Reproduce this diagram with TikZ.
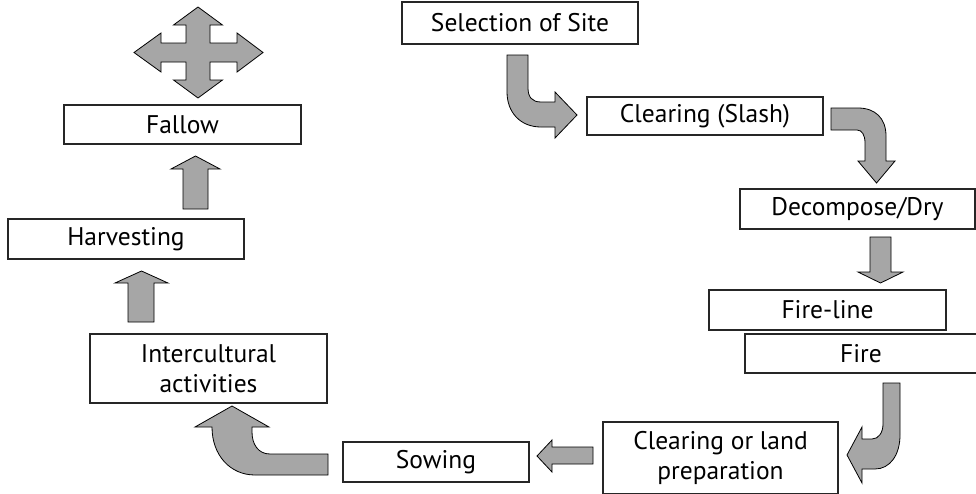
\documentclass[tikz,border=0pt]{standalone}
\usepackage{fontspec}
\setmainfont{PT Sans}
\begin{document}
\begin{tikzpicture}[x=1pt,y=-1pt,
  box/.style={draw=black!85,line width=1.2pt,fill=white,inner sep=0pt,align=center,
    font=\fontsize{25.5}{30}\selectfont},
  blockarrow/.style={draw=black,line width=0.8pt,fill=arrowgray,line join=miter}]
\definecolor{arrowgray}{RGB}{166,166,166}
\clip (0,0) rectangle (976,493);
% boxes
\node[box,minimum width=236pt,minimum height=42pt] (sel) at (520,23) {Selection of Site};
\node[box,minimum width=236pt,minimum height=38pt] (slash) at (705,116) {Clearing (Slash)};
\node[box,minimum width=235pt,minimum height=40pt] (decomp) at (857.5,209) {Decompose/Dry};
\node[box,minimum width=237pt,minimum height=40pt] (fireline) at (827.5,310) {Fire-line};
\node[box,minimum width=232pt,minimum height=39pt] (fire) at (861,353.5) {Fire};
\node[box,minimum width=235pt,minimum height=72pt] (land) at (720.5,458) {Clearing or land\\preparation};
\node[box,minimum width=186pt,minimum height=40pt] (sow) at (436,462) {Sowing};
\node[box,minimum width=237pt,minimum height=69pt] (inter) at (208.5,368.5) {Intercultural\\activities};
\node[box,minimum width=236pt,minimum height=40pt] (harv) at (126,239) {Harvesting};
\node[box,minimum width=237pt,minimum height=39pt] (fallow) at (182.5,124.5) {Fallow};
% four-way arrow
\draw[blockarrow] (198,7) -- (222.5,25) -- (210,25) -- (210,43) -- (237,43) -- (237,33) -- (263,52.5)
  -- (237,72) -- (237,62) -- (210,62) -- (210,80) -- (222.5,80) -- (198,98) -- (173.5,80) -- (186,80)
  -- (186,62) -- (161,62) -- (161,72) -- (134,52.5) -- (161,33) -- (161,43) -- (186,43) -- (186,25)
  -- (173.5,25) -- cycle;
% straight arrows
\draw[blockarrow] (870,237) -- (891,237) -- (891,272) -- (903,272) -- (880.5,283) -- (858,272) -- (870,272) -- cycle;
\draw[blockarrow] (183,209) -- (208,209) -- (208,169) -- (220,169) -- (195.5,156) -- (171,169) -- (183,169) -- cycle;
\draw[blockarrow] (128,322) -- (154,322) -- (154,283) -- (168,283) -- (141.5,271) -- (115,283) -- (128,283) -- cycle;
\draw[blockarrow] (593,447) -- (593,464) -- (552,464) -- (552,472) -- (537,456) -- (552,440) -- (552,447) -- cycle;
% curved arrows
\draw[blockarrow] (507,55) -- (528,55) -- (528,88) .. controls (528,97) and (532,102) .. (541,102)
  -- (555,102) -- (555,92) -- (577,115) -- (555,138) -- (555,127) -- (541,127)
  .. controls (520,127) and (507,112) .. (507,92) -- cycle;
\draw[blockarrow] (831,108) -- (858,108) .. controls (875,108) and (886,118) .. (886,136)
  -- (886,161) -- (895,161) -- (876.5,183) -- (858,161) -- (865,161) -- (865,143)
  .. controls (865,135) and (862,130) .. (857,130) -- (831,130) -- cycle;
\draw[blockarrow] (883,383) -- (900,383) -- (900,435) .. controls (900,455) and (890,469) .. (875,469)
  -- (862,469) -- (862,483) -- (847,455) -- (862,427) -- (862,439) -- (872,439)
  .. controls (879,439) and (883,432) .. (883,424) -- cycle;
\draw[blockarrow] (328,454) -- (270,454) .. controls (258,454) and (252,444) .. (252,432)
  -- (252,427) -- (269,427) -- (232,406) -- (195,427) -- (212,427)
  .. controls (212,455) and (230,475) .. (255,475) -- (328,475) -- cycle;
\end{tikzpicture}
\end{document}
